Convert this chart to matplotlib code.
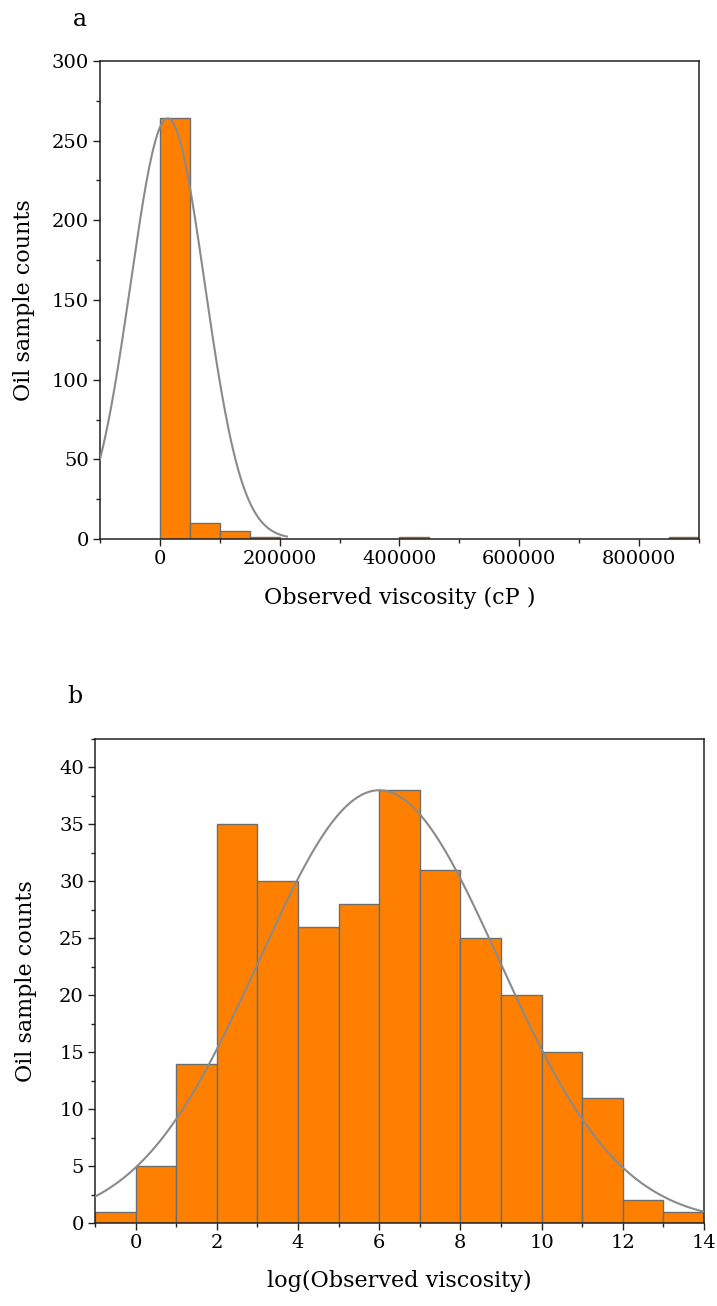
import numpy as np
import matplotlib
matplotlib.use("Agg")
import matplotlib.pyplot as plt
from matplotlib.ticker import MultipleLocator

# Panel a: raw viscosity histogram (bin width 50000 cP)
visc_bin_left = [0, 50000, 100000, 150000, 400000, 850000]
visc_counts = [264, 10, 5, 1, 1, 1]
visc_bin_width = 50000
visc_fit_mu = 13000.0
visc_fit_sigma = 62000.0
visc_fit_peak = 264.0
visc_fit_range = (-100000, 212000)

# Panel b: log-viscosity histogram (bin width 1)
log_bin_left = [-1, 0, 1, 2, 3, 4, 5, 6, 7, 8, 9, 10, 11, 12, 13]
log_counts = [1, 5, 14, 35, 30, 26, 28, 38, 31, 25, 20, 15, 11, 2, 1]
log_bin_width = 1
log_fit_mu = 6.0
log_fit_sigma = 2.96
log_fit_peak = 38.0
log_fit_range = (-1, 14)

BAR_COLOR = "#FF8000"
EDGE_COLOR = "#6e6e6e"
CURVE_COLOR = "#8a8a8a"
FONT = "DejaVu Serif"

plt.rcParams["font.family"] = FONT
plt.rcParams["axes.linewidth"] = 1.1

W, H = 717, 1306
fig = plt.figure(figsize=(W / 100, H / 100), dpi=100)


def px_axes(left, top, right, bottom):
    return fig.add_axes([left / W, 1 - bottom / H, (right - left) / W, (bottom - top) / H])


def style(ax):
    for s in ax.spines.values():
        s.set_color("#222222")
    ax.tick_params(which="major", direction="out", length=5, width=1.0,
                   labelsize=14, colors="#222222", labelcolor="black", pad=3)
    ax.tick_params(which="minor", direction="out", length=3, width=1.0, colors="#222222")
    ax.tick_params(top=False, right=False, which="both")


def gauss(x, mu, sigma, peak):
    return peak * np.exp(-0.5 * ((x - mu) / sigma) ** 2)


# ---- panel a ----
ax1 = px_axes(100, 61, 699, 539)
ax1.bar(visc_bin_left, visc_counts, width=visc_bin_width, align="edge",
        color=BAR_COLOR, edgecolor=EDGE_COLOR, linewidth=1.0, zorder=2)
xa = np.linspace(*visc_fit_range, 400)
ax1.plot(xa, gauss(xa, visc_fit_mu, visc_fit_sigma, visc_fit_peak),
         color=CURVE_COLOR, lw=1.5, zorder=3)
ax1.set_xlim(-100000, 900000)
ax1.set_ylim(0, 300)
ax1.xaxis.set_major_locator(MultipleLocator(200000))
ax1.xaxis.set_minor_locator(MultipleLocator(100000))
ax1.yaxis.set_major_locator(MultipleLocator(50))
ax1.yaxis.set_minor_locator(MultipleLocator(25))
style(ax1)
ax1.set_xlabel("Observed viscosity (cP )", fontsize=16)
ax1.set_ylabel("Oil sample counts", fontsize=16)
ax1.xaxis.set_label_coords(0.5, -0.100)
ax1.yaxis.set_label_coords(-0.1085, 0.5)
fig.text(80 / W, 1 - 20 / H, "a", fontsize=17, ha="center", va="center")

# ---- panel b ----
ax2 = px_axes(95, 739, 704, 1223)
ax2.bar(log_bin_left, log_counts, width=log_bin_width, align="edge",
        color=BAR_COLOR, edgecolor=EDGE_COLOR, linewidth=1.0, zorder=2)
xb = np.linspace(*log_fit_range, 400)
ax2.plot(xb, gauss(xb, log_fit_mu, log_fit_sigma, log_fit_peak),
         color=CURVE_COLOR, lw=1.5, zorder=3)
ax2.set_xlim(-1, 14)
ax2.set_ylim(0, 42.5)
ax2.xaxis.set_major_locator(MultipleLocator(2))
ax2.xaxis.set_minor_locator(MultipleLocator(1))
ax2.yaxis.set_major_locator(MultipleLocator(5))
ax2.yaxis.set_minor_locator(MultipleLocator(2.5))
style(ax2)
ax2.set_xlabel("log(Observed viscosity)", fontsize=16)
ax2.set_ylabel("Oil sample counts", fontsize=16)
ax2.xaxis.set_label_coords(0.5, -0.097)
ax2.yaxis.set_label_coords(-0.095, 0.5)
fig.text(75 / W, 1 - 697 / H, "b", fontsize=17, ha="center", va="center")

fig.savefig("out.png", dpi=100, facecolor="white")
